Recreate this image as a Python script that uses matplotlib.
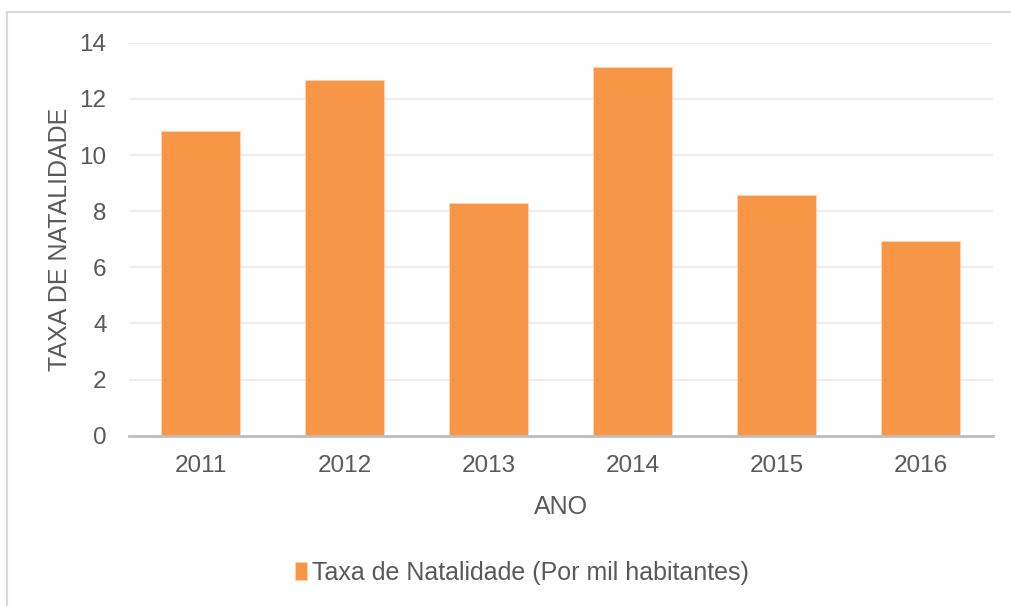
import matplotlib.pyplot as plt
from matplotlib.patches import Rectangle

anos = ["2011", "2012", "2013", "2014", "2015", "2016"]
taxa_natalidade = [10.84, 12.67, 8.30, 13.15, 8.57, 6.93]
y_ticks = [0, 2, 4, 6, 8, 10, 12, 14]

plt.rcParams['font.family'] = ['Liberation Sans', 'DejaVu Sans']
cor_texto = "#595959"

fig = plt.figure(figsize=(10.12, 6.06), dpi=100)
ax = fig.add_axes([0.1272, 0.281, 0.9810 - 0.1272, 0.9295 - 0.281])

# moldura cinza do grafico (sai pela direita e por baixo)
fig.patches.append(Rectangle((7 / 1012, -0.1), 1.2, 1 - 12 / 606 + 0.1,
                             transform=fig.transFigure, fill=False,
                             edgecolor="#d9d9d9", linewidth=1.5))

x = list(range(len(anos)))
ax.bar(x, taxa_natalidade, width=0.55, color="#F79646", edgecolor="#fbd5b5",
       linewidth=0.6, label="Taxa de Natalidade (Por mil habitantes)", zorder=3)

ax.set_xlim(-0.5, len(anos) - 0.5)
ax.set_ylim(0, 14)
ax.set_yticks(y_ticks)
ax.set_xticks(x)
ax.set_xticklabels(anos)
ax.grid(axis="y", color="#eeeeee", linewidth=1.5, zorder=0)
ax.tick_params(axis="both", length=0, labelsize=17.5, colors=cor_texto)
ax.tick_params(axis="x", pad=14)
ax.tick_params(axis="y", pad=16)

for lado in ["top", "right", "left"]:
    ax.spines[lado].set_visible(False)
ax.spines["bottom"].set_color("#bfbfbf")
ax.spines["bottom"].set_linewidth(2)
ax.spines["bottom"].set_zorder(4)

ax.set_xlabel("ANO", fontsize=18, color=cor_texto, labelpad=13)
ax.set_ylabel("TAXA DE NATALIDADE", fontsize=18, color=cor_texto, labelpad=5)

leg = fig.legend(loc="center", bbox_to_anchor=(522 / 1012, 1 - 573 / 606),
                 frameon=False, fontsize=18, handlelength=0.45, handleheight=0.75,
                 handletextpad=0.2, labelcolor=cor_texto)

fig.savefig("out.png", dpi=100)
